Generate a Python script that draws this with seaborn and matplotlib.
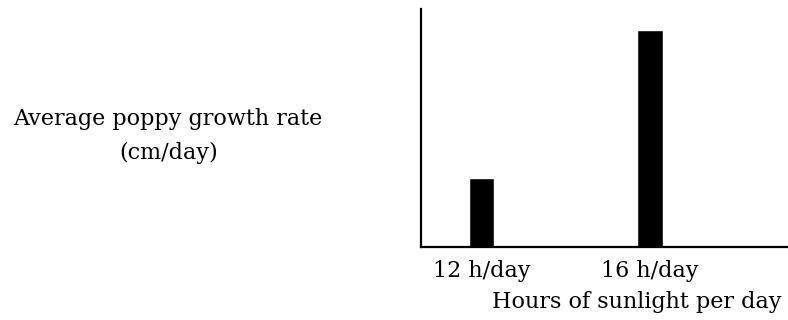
import matplotlib
matplotlib.use("Agg")
import matplotlib.pyplot as plt
import seaborn as sns
import pandas as pd

# data (arbitrary units, axis has no numbers)
sunlight = ["12 h/day", "16 h/day"]
growth = [2.9, 9.1]

df = pd.DataFrame({"Sunlight": sunlight, "Growth": growth})

sns.set_style("white")
plt.rcParams["font.family"] = ["DejaVu Serif"]
plt.rcParams["text.color"] = "black"
plt.rcParams["xtick.color"] = "black"

fig = plt.figure(figsize=(7.88, 3.2), dpi=100)
ax = fig.add_axes([421 / 788, 73 / 320, 367 / 788, 238 / 320])

sns.barplot(data=df, x="Sunlight", y="Growth", color="black", width=0.152,
            saturation=1, ax=ax)

ax.set_xlim(-0.359, 1.819)
ax.set_ylim(0, 10)
ax.set_yticks([])
ax.tick_params(axis="x", length=0, pad=9, labelsize=16, labelcolor="black")

for side in ["top", "right"]:
    ax.spines[side].set_visible(False)
for side in ["left", "bottom"]:
    ax.spines[side].set_color("black")
    ax.spines[side].set_linewidth(1.6)

ax.set_xlabel("Hours of sunlight per day", fontsize=16, color="black")
ax.xaxis.set_label_coords(0.589, -0.231)
ax.xaxis.label.set_va("center")

ax.set_ylabel("Average poppy growth rate\n(cm/day)", fontsize=16, rotation=0,
              ha="center", va="center", multialignment="center",
              linespacing=1.7, color="black")
ax.yaxis.set_label_coords(-0.689, 0.466)

fig.savefig("out.png", dpi=100)
